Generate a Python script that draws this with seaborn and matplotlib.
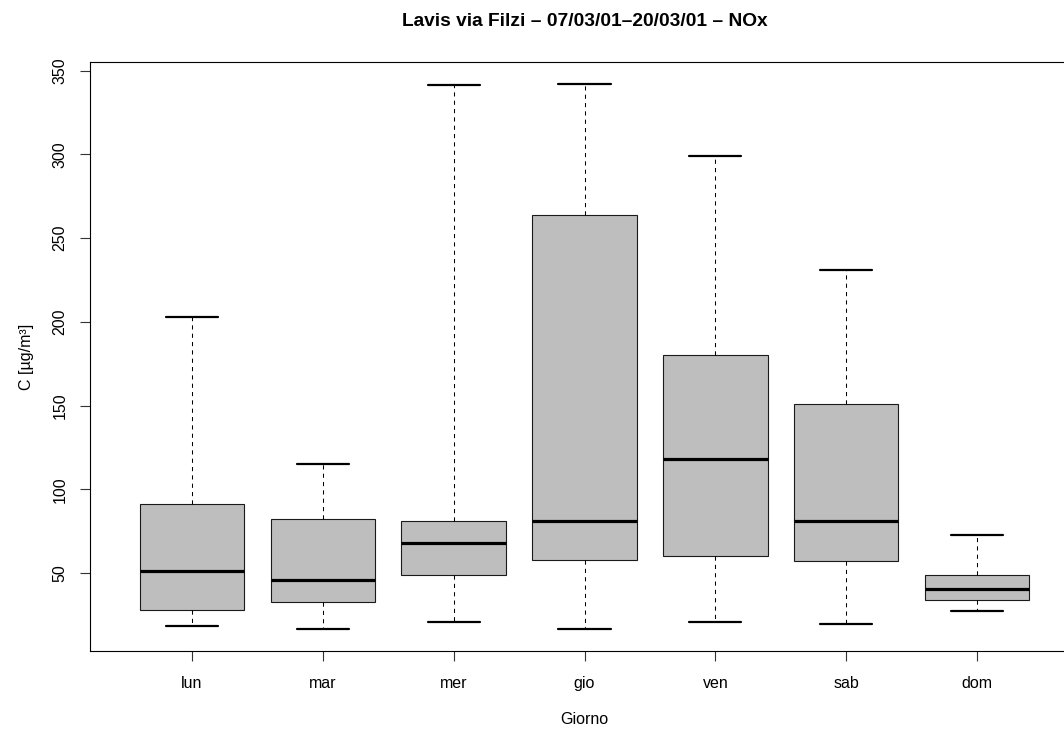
import numpy as np
import pandas as pd
import matplotlib
matplotlib.use("Agg")
import matplotlib.pyplot as plt
import seaborn as sns

# Five-number summaries (µg/m³)
days = ["lun", "mar", "mer", "gio", "ven", "sab", "dom"]
whisker_low = [18.3, 16.5, 21.0, 16.5, 20.5, 19.5, 27.3]
q1 = [28.1, 32.9, 48.8, 57.6, 60.2, 57.4, 33.7]
median = [51.0, 45.6, 68.2, 81.1, 118.1, 81.1, 40.3]
q3 = [91.0, 82.0, 81.3, 264.0, 180.0, 151.0, 49.0]
whisker_high = [203.0, 115.0, 341.1, 342.1, 299.1, 231.0, 73.0]
y_ticks = [50, 100, 150, 200, 250, 300, 350]

title = "Lavis via Filzi \u2013 07/03/01\u201320/03/01 \u2013 NOx"
x_label = "Giorno"
y_label = "C [\u00b5g/m\u00b3]"

rows = []
for d, a, b, c, e, f in zip(days, whisker_low, q1, median, q3, whisker_high):
    for v in (a, b, c, e, f):
        rows.append({"Giorno": d, "C": v})
df = pd.DataFrame(rows)

sns.set_style("white")
plt.rcParams["font.family"] = ["Liberation Sans", "DejaVu Sans"]
plt.rcParams["text.color"] = "black"
plt.rcParams["axes.labelcolor"] = "black"
plt.rcParams["xtick.color"] = "black"
plt.rcParams["ytick.color"] = "black"

fig = plt.figure(figsize=(10.64, 7.31), dpi=100)
ax = fig.add_axes([90 / 1064, 1 - 651 / 731, (1079 - 90) / 1064, (651 - 62) / 731])

sns.boxplot(
    data=df, x="Giorno", y="C", order=days, ax=ax,
    whis=(0, 100), width=0.8, color="#BEBEBE", fill=True,
    linecolor="black", linewidth=0.8, saturation=1,
    boxprops={"facecolor": "#BEBEBE", "edgecolor": "#1a1a1a", "linewidth": 0.8},
    whiskerprops={"color": "black", "linewidth": 0.75, "linestyle": (0, (4, 4))},
    capprops={"color": "black", "linewidth": 1.6},
    medianprops={"color": "black", "linewidth": 2.3},
    showfliers=False,
)

lo = min(whisker_low)
hi = max(whisker_high)
pad = (hi - lo) * 0.04
ax.set_ylim(lo - pad, hi + pad)
ax.set_xlim(-0.78, 6.78)
ax.set_yticks(y_ticks)
ax.set_yticklabels([str(t) for t in y_ticks])

for s in ax.spines.values():
    s.set_visible(True)
    s.set_color("black")
    s.set_linewidth(0.8)

ax.tick_params(axis="both", which="major", length=7.2, width=0.8, color="#333333",
               labelcolor="black", labelsize=11.5, direction="out", left=True, bottom=True)
ax.tick_params(axis="x", pad=11)
ax.tick_params(axis="y", pad=9, labelrotation=90)
for lab in ax.get_yticklabels():
    lab.set_va("center")

ax.set_xlabel(x_label, fontsize=11.5, va="center", color="black")
ax.set_ylabel(y_label, fontsize=11.5, va="center", color="black")
ax.xaxis.set_label_coords(0.5, -(720 - 651) / 589)
ax.yaxis.set_label_coords(-(90 - 26) / 989, 0.5)

ax.set_title(title, fontsize=13.8, fontweight="bold", color="black",
             y=1 + (62 - 22) / 589, va="center", pad=0)

fig.savefig("out.png", dpi=100)
